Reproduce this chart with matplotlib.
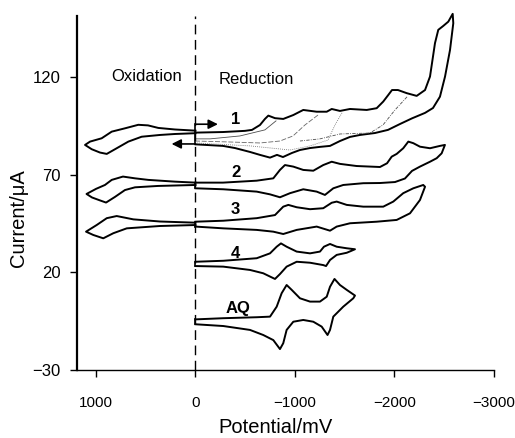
import matplotlib
matplotlib.use('Agg')
import matplotlib.pyplot as plt

plt.rcParams['font.family'] = ['Liberation Sans', 'DejaVu Sans']

# 曲线数据 (电位 mV, 电流 uA)
# 1 氧化部分
ox1_x = [0, 206, 374, 477, 575, 709, 842, 943, 1060, 1110, 1043, 960, 892, 809, 675, 541, 357, 206, 0]
ox1_y = [92.5, 93.1, 93.9, 95.2, 95.5, 93.7, 92.0, 88.6, 86.9, 85.2, 83.0, 81.3, 80.6, 83.0, 86.9, 89.4, 90.3, 90.8, 91.2]
# 1 还原部分
red1_x = [0, -276, -497, -568, -648, -698, -732, -799, -882, -983, -1083, -1218, -1319, -1369, -1452, -1553,
          -1721, -1821, -1887, -1938, -1975, -2035, -2123, -2223, -2307, -2357, -2407, -2440, -2490, -2541, -2585,
          -2591, -2558, -2508, -2457, -2387, -2307, -2176, -2055, -1935, -1804, -1653, -1553, -1452, -1352,
          -1251, -1151, -1050, -970, -879, -819, -749, -648, -548, -397, -276, 0]
red1_y = [91.5, 91.8, 92.4, 92.9, 95.4, 98.5, 100.2, 98.9, 98.5, 100.5, 103.1, 102.2, 102.2, 103.6, 102.6, 103.6,
          103.1, 104.0, 107.4, 110.8, 113.3, 113.3, 111.7, 110.3, 113.3, 120.2, 137.3, 144.1, 146.1, 148.3, 152.3,
          147.5, 133.8, 120.2, 109.9, 104.1, 101.6, 98.8, 95.9, 92.9, 91.3, 90.3, 89.3, 87.2, 84.7,
          84.2, 83.6, 82.6, 81.1, 79.0, 80.1, 78.7, 80.1, 81.6, 83.6, 84.7, 85.5]
# 1 中间扫描 (细线)
scanA_x = [-809, -698, -447, -146, 0]
scanA_y = [97.5, 92.9, 89.8, 88.3, 88.3]
scanB_x = [-1231, -1100, -980, -849, -648, -347, 0]
scanB_y = [100.5, 95.4, 89.8, 87.2, 86.2, 86.7, 87.2]
scanC_x = [-1472, -1402, -1332, -1151, -950, -548, 0]
scanC_y = [101.6, 95.4, 87.7, 84.7, 82.6, 84.7, 86.2]
scanD_x = [-2126, -2005, -1884, -1753, -1452, -1251, -1050]
scanD_y = [109.8, 103.1, 95.4, 91.3, 90.8, 88.3, 87.2]

# 2
ox2_x = [0, 206, 474, 608, 729, 842, 910, 1000, 1095, 1040, 960, 899, 809, 709, 608, 377, 0]
ox2_y = [65.9, 66.4, 67.3, 68.1, 69.0, 67.3, 64.7, 62.7, 60.1, 58.3, 56.8, 55.7, 58.6, 62.1, 63.5, 64.2, 64.7]
red2_x = [0, -276, -615, -782, -849, -899, -983, -1083, -1184, -1284, -1369, -1452, -1620, -1854, -1925, -1972,
          -2022, -2088, -2139, -2189, -2256, -2357, -2457, -2507,
          -2474, -2424, -2357, -2256, -2176, -2105, -2005, -1854, -1686, -1485, -1385, -1301, -1218, -1083,
          -950, -849, -749, -615, -279, 0]
red2_y = [65.9, 65.9, 66.9, 68.1, 72.4, 74.9, 74.1, 72.4, 72.0, 74.9, 76.6, 75.5, 74.4, 73.9, 75.8, 79.2,
          80.6, 83.5, 86.9, 86.1, 84.3, 83.5, 84.7, 85.2,
          80.9, 78.4, 76.6, 74.1, 71.9, 68.0, 66.2, 65.7, 65.6, 64.7, 63.0, 59.6, 61.3, 62.5,
          60.5, 58.4, 59.9, 61.3, 62.5, 63.0]

# 3
ox3_x = [0, 357, 625, 792, 892, 993, 1100, 1027, 927, 826, 691, 357, 0]
ox3_y = [45.4, 46.0, 47.1, 48.8, 47.7, 44.2, 40.8, 39.1, 37.4, 40.0, 42.5, 43.7, 44.2]
red3_x = [0, -279, -615, -799, -882, -933, -1017, -1151, -1284, -1369, -1419, -1520, -1686, -1887, -1988,
          -2088, -2189, -2289,
          -2307, -2256, -2156, -2022, -1821, -1553, -1419, -1352, -1218, -1017, -882, -782, -615, -279, 0]
red3_y = [45.9, 46.4, 47.7, 49.3, 53.6, 54.5, 53.3, 52.3, 52.8, 55.6, 56.2, 54.5, 53.6, 53.6, 56.2,
          60.5, 63.0, 64.7,
          63.8, 57.0, 50.2, 46.8, 45.9, 45.1, 43.4, 41.3, 43.4, 41.7, 39.6, 40.8, 41.7, 42.5, 43.4]

# 4
red4_x = [0, -279, -615, -749, -816, -859, -916, -1017, -1151, -1251, -1291, -1352, -1419, -1520, -1603,
          -1553, -1520, -1419, -1352, -1312, -1284, -1151, -1017, -916, -849, -799, -766, -681, -548, -279, 0]
red4_y = [25.4, 25.9, 27.2, 29.7, 33.1, 34.8, 33.1, 30.6, 29.7, 30.6, 33.1, 34.5, 33.1, 32.3, 31.8,
          30.7, 30.0, 28.9, 26.3, 23.2, 23.7, 24.9, 25.4, 22.9, 19.1, 16.6, 17.4, 19.5, 21.2, 22.9, 23.2]

# AQ
aq_x = [0, -279, -615, -749, -816, -866, -916, -967, -1050, -1151, -1251, -1319, -1352, -1397, -1452, -1520, -1603,
        -1586, -1485, -1385, -1352, -1327, -1268, -1184, -1083, -983, -916, -882, -849, -782, -681, -548, -279, 0]
aq_y = [-4.1, -3.5, -3.0, -2.7, 2.4, 9.3, 13.5, 11.0, 6.7, 5.0, 5.0, 7.5, 12.6, 16.6, 13.5, 11.0, 8.1,
        6.7, 2.4, -2.7, -9.5, -12.1, -7.8, -5.3, -4.4, -5.3, -9.5, -16.3, -19.3, -14.7, -12.1, -9.5, -7.5, -6.6]

labels = ['1', '2', '3', '4', 'AQ']
label_x = [-407, -404, -404, -404, -430]
label_y = [98.3, 71.2, 52.3, 29.7, 1.6]

# 画图
fig = plt.figure(figsize=(5.15, 4.38), dpi=100)
ax = fig.add_axes([0.1495, 0.1553, 0.8097, 0.8082])

lw = 1.4
for xs, ys in [(ox1_x, ox1_y), (red1_x, red1_y), (ox2_x, ox2_y), (red2_x, red2_y),
               (ox3_x, ox3_y), (red3_x, red3_y), (red4_x, red4_y), (aq_x, aq_y)]:
    ax.plot(xs, ys, 'k-', lw=lw, clip_on=False, solid_joinstyle='round')

# 0电位处的连接线
for ys in [(red2_y[0], red2_y[-1]), (red3_y[0], red3_y[-1]), (red4_y[0], red4_y[-1]), (aq_y[0], aq_y[-1])]:
    ax.plot([0, 0], ys, 'k-', lw=1.2)
ax.plot([0, 0], [85.7, 95.8], 'k-', lw=1.2)

# 中间扫描细线
ax.plot(scanA_x, scanA_y, color='0.3', lw=0.6)
ax.plot(scanB_x, scanB_y, color='0.4', lw=0.6, ls=(0, (6, 2)))
ax.plot(scanC_x, scanC_y, color='0.4', lw=0.6, ls=(0, (1, 1.5)))
ax.plot(scanD_x, scanD_y, color='0.3', lw=0.6, ls=(0, (4, 1.5, 1, 1.5)))

# 扫描方向箭头
ax.annotate('', xy=(-225, 95.8), xytext=(0, 95.8),
            arrowprops=dict(arrowstyle='-|>', color='k', lw=1.2, mutation_scale=14, shrinkA=0, shrinkB=0))
ax.annotate('', xy=(240, 85.7), xytext=(0, 85.7),
            arrowprops=dict(arrowstyle='-|>', color='k', lw=1.2, mutation_scale=14, shrinkA=0, shrinkB=0))

# 氧化/还原分界虚线
ax.axvline(0, color='k', lw=1.0, ls=(0, (7, 4)))

for t, x, y in zip(labels, label_x, label_y):
    ax.text(x, y, t, fontsize=12, fontweight='bold', ha='center', va='center')
ax.text(494, 120, 'Oxidation', fontsize=12, ha='center', va='center')
ax.text(-615, 118.5, 'Reduction', fontsize=12, ha='center', va='center')

ax.set_xlim(1191, -3000)
ax.set_ylim(-30, 151.2)
ax.set_xticks([1000, 0, -1000, -2000, -3000])
ax.set_yticks([-30, 20, 70, 120])
ax.spines['top'].set_visible(False)
ax.spines['right'].set_visible(False)
ax.spines['left'].set_linewidth(1.6)
ax.spines['bottom'].set_linewidth(1.0)
ax.tick_params(axis='x', direction='out', length=5, width=1.0, pad=14, labelsize=11)
ax.tick_params(axis='y', direction='out', length=5, width=1.0, pad=7, labelsize=12)
ax.set_xlabel('Potential/mV', fontsize=14.5)
ax.set_ylabel('Current/\u03bcA', fontsize=14.5)
ax.xaxis.set_label_coords(0.477, -0.135)
ax.yaxis.set_label_coords(-0.117, 0.43)

plt.savefig('out.png', dpi=100, facecolor='white')
